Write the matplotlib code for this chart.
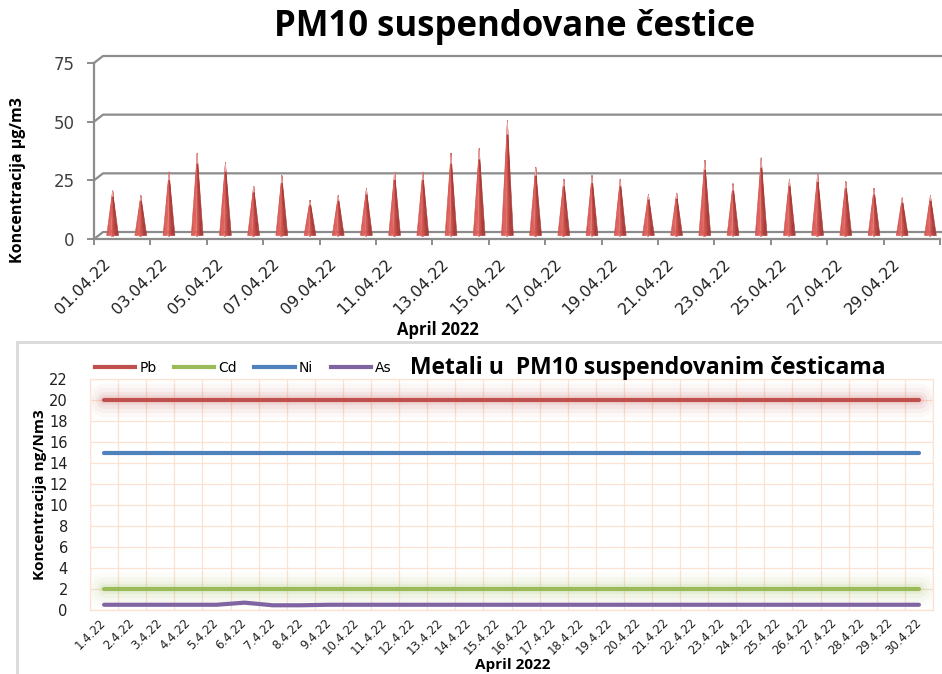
import numpy as np
import matplotlib
matplotlib.use("Agg")
import matplotlib.pyplot as plt
from matplotlib.collections import PolyCollection
from matplotlib.patches import Rectangle
from matplotlib.lines import Line2D

##############################################################################
# data

days_long = ["01.04.22", "02.04.22", "03.04.22", "04.04.22", "05.04.22",
             "06.04.22", "07.04.22", "08.04.22", "09.04.22", "10.04.22",
             "11.04.22", "12.04.22", "13.04.22", "14.04.22", "15.04.22",
             "16.04.22", "17.04.22", "18.04.22", "19.04.22", "20.04.22",
             "21.04.22", "22.04.22", "23.04.22", "24.04.22", "25.04.22",
             "26.04.22", "27.04.22", "28.04.22", "29.04.22", "30.04.22"]
days_short = ["1.4.22", "2.4.22", "3.4.22", "4.4.22", "5.4.22", "6.4.22",
              "7.4.22", "8.4.22", "9.4.22", "10.4.22", "11.4.22", "12.4.22",
              "13.4.22", "14.4.22", "15.4.22", "16.4.22", "17.4.22", "18.4.22",
              "19.4.22", "20.4.22", "21.4.22", "22.4.22", "23.4.22", "24.4.22",
              "25.4.22", "26.4.22", "27.4.22", "28.4.22", "29.4.22", "30.4.22"]

pm10 = [19, 17, 27, 35, 31, 21, 25.5, 15, 17, 20,
        27, 27, 35, 37, 49, 29, 24, 25.5, 24, 17.5,
        18, 32, 22, 33, 24, 26, 23, 20, 16, 17]

pb = [20.0, 20.0, 20.0, 20.0, 20.0, 20.0, 20.0, 20.0, 20.0, 20.0,
      20.0, 20.0, 20.0, 20.0, 20.0, 20.0, 20.0, 20.0, 20.0, 20.0,
      20.0, 20.0, 20.0, 20.0, 20.0, 20.0, 20.0, 20.0, 20.0, 20.0]
cd = [2.0, 2.0, 2.0, 2.0, 2.0, 2.0, 2.0, 2.0, 2.0, 2.0,
      2.0, 2.0, 2.0, 2.0, 2.0, 2.0, 2.0, 2.0, 2.0, 2.0,
      2.0, 2.0, 2.0, 2.0, 2.0, 2.0, 2.0, 2.0, 2.0, 2.0]
ni = [15.0, 15.0, 15.0, 15.0, 15.0, 15.0, 15.0, 15.0, 15.0, 15.0,
      15.0, 15.0, 15.0, 15.0, 15.0, 15.0, 15.0, 15.0, 15.0, 15.0,
      15.0, 15.0, 15.0, 15.0, 15.0, 15.0, 15.0, 15.0, 15.0, 15.0]
as_ = [0.5, 0.5, 0.5, 0.5, 0.5, 0.7, 0.45, 0.45, 0.5, 0.5,
       0.5, 0.5, 0.5, 0.5, 0.5, 0.5, 0.5, 0.5, 0.5, 0.5,
       0.5, 0.5, 0.5, 0.5, 0.5, 0.5, 0.5, 0.5, 0.5, 0.5]

pm10_ticks = [0, 25, 50, 75]
metal_ticks = [0, 2, 4, 6, 8, 10, 12, 14, 16, 18, 20, 22]

##############################################################################

W, H = 942, 674
fig = plt.figure(figsize=(W / 100, H / 100), dpi=100)
x = np.arange(len(pm10))

axis_c = "#8C8C8C"
grid_c = "#FBE2D2"
col_pb, col_cd, col_ni, col_as = "#C0504D", "#9BBB59", "#4F81BD", "#8064A2"
title_font = "Open Sans"

# ---------------- top panel: pseudo-3D cone chart ----------------
ax1 = fig.add_axes([94 / W, 1 - 239 / H, 846 / W, 176 / H])
ax1.set_xlim(-0.5, len(x) - 0.5)
ax1.set_ylim(0, 75)

# depth offset (9 px right, 7 px up) expressed in data units
px_x = 846 / len(x)
px_y = 176 / 75
DX, DY = 9 / px_x, 7 / px_y

# back wall gridlines with the little floor diagonal at the left
for v in pm10_ticks:
    ax1.plot([-0.5, -0.5 + DX, len(x) + 2], [v, v + DY, v + DY],
             color=axis_c, lw=1.6, clip_on=False, zorder=1)

# cones, shaded in vertical slices
dark = np.array([0.55, 0.15, 0.14])
light = np.array([0.88, 0.38, 0.36])
n_sl = 8
hw = 0.21
polys, cols = [], []
for xi, v in zip(x, pm10):
    cx = xi + DX / 2
    base = DY / 2
    top = v + DY / 2
    edges = np.linspace(cx - hw, cx + hw, n_sl + 1)
    for k in range(n_sl):
        t = (k + 0.5) / n_sl
        f = 0.35 + 0.65 * max(0.0, np.cos((t - 0.3) * np.pi))
        polys.append([(edges[k], base), (edges[k + 1], base), (cx, top)])
        cols.append(dark + (light - dark) * f)
    # faded tip
    tip = top - 0.12 * (top - base)
    polys.append([(cx - hw * 0.12, tip), (cx + hw * 0.12, tip), (cx, top)])
    cols.append(np.array([0.93, 0.68, 0.68]))
ax1.add_collection(PolyCollection(polys, facecolors=cols, edgecolors=cols,
                                  linewidths=0.4, zorder=3, clip_on=False))

for s in ["top", "right"]:
    ax1.spines[s].set_visible(False)
for s in ["left", "bottom"]:
    ax1.spines[s].set_color(axis_c)
    ax1.spines[s].set_linewidth(1.6)

ax1.set_yticks(pm10_ticks)
ax1.set_yticklabels([str(t) for t in pm10_ticks], fontsize=12, color="#404040")
ax1.tick_params(axis="y", length=5, width=1.4, color=axis_c, pad=9)

ax1.set_xticks(np.arange(-0.5, len(x), 2))
ax1.set_xticklabels([])
ax1.tick_params(axis="x", which="major", length=4, width=1.4, color=axis_c)
ax1.set_xticks(x[::2], minor=True)
ax1.set_xticklabels(days_long[::2], minor=True, rotation=45, ha="right",
                    va="center", rotation_mode="anchor", fontsize=11.5,
                    color="#202020")
ax1.tick_params(axis="x", which="minor", length=0, pad=16)

fig.text(515 / W, 1 - 27 / H, "PM10 suspendovane čestice", ha="center",
         va="center", fontsize=25, fontweight="bold", family=title_font)
fig.text(438 / W, 1 - 330 / H, "April 2022", ha="center", va="center",
         fontsize=12, fontweight="bold", family=title_font)
fig.text(18 / W, 1 - 180 / H, "Koncentracija µg/m3", ha="center",
         va="center", rotation=90, fontsize=11.5, fontweight="bold",
         family=title_font)

# ---------------- bottom panel: metals line chart ----------------
fig.add_artist(Rectangle((17 / W, -0.02), 1.0, (674 - 342) / H + 0.02,
                         transform=fig.transFigure, fc="none", ec="#D9D9D9",
                         lw=2))

ax2 = fig.add_axes([90 / W, 1 - 610 / H, 843 / W, 231 / H])
ax2.set_xlim(-0.5, len(x) - 0.5)
ax2.set_ylim(0, 22)
ax2.set_yticks(metal_ticks)
ax2.set_yticklabels([str(t) for t in metal_ticks], fontsize=10.5,
                    color="#202020")
ax2.set_xticks(x)
ax2.set_xticklabels(days_short, rotation=45, ha="right", va="center",
                    rotation_mode="anchor", fontsize=8.5, color="#202020")
ax2.set_xticks(np.arange(-0.5, len(x), 1), minor=True)
ax2.grid(which="minor", axis="x", color=grid_c, lw=0.9)
ax2.grid(which="major", axis="y", color=grid_c, lw=0.9)
ax2.tick_params(which="both", length=0)
ax2.tick_params(axis="y", pad=16)
ax2.tick_params(axis="x", pad=8)
for s in ax2.spines.values():
    s.set_color(grid_c)
    s.set_linewidth(0.9)
ax2.set_axisbelow(True)

# soft glow under Pb and Cd
for series, c in [(pb, col_pb), (cd, col_cd)]:
    for lw, a in [(24, 0.04), (18, 0.05), (12, 0.07), (7, 0.1)]:
        ax2.plot(x, series, color=c, lw=lw, alpha=a, solid_capstyle="round")

ax2.plot(x, pb, color=col_pb, lw=3, solid_capstyle="round")
ax2.plot(x, cd, color=col_cd, lw=3, solid_capstyle="round")
ax2.plot(x, ni, color=col_ni, lw=3, solid_capstyle="round")
ax2.plot(x, as_, color=col_as, lw=3, solid_capstyle="round")

handles = [Line2D([], [], color=c, lw=3) for c in [col_pb, col_cd, col_ni, col_as]]
fig.legend(handles, ["Pb", "Cd", "Ni", "As"], ncol=4, loc="center left",
           bbox_to_anchor=(95 / W, 1 - 368 / H), frameon=False, fontsize=10,
           handlelength=2.9, handletextpad=0.3, columnspacing=1.25,
           borderpad=0, borderaxespad=0)

fig.text(648 / W, 1 - 368 / H, "Metali u  PM10 suspendovanim česticama",
         ha="center", va="center", fontsize=16.5, fontweight="bold",
         family=title_font)
fig.text(513 / W, 1 - 665 / H, "April 2022", ha="center", va="center",
         fontsize=11, fontweight="bold", family=title_font)
fig.text(40 / W, 1 - 495 / H, "Koncentracija ng/Nm3", ha="center",
         va="center", rotation=90, fontsize=11, fontweight="bold",
         family=title_font)

fig.savefig("out.png", dpi=100)
